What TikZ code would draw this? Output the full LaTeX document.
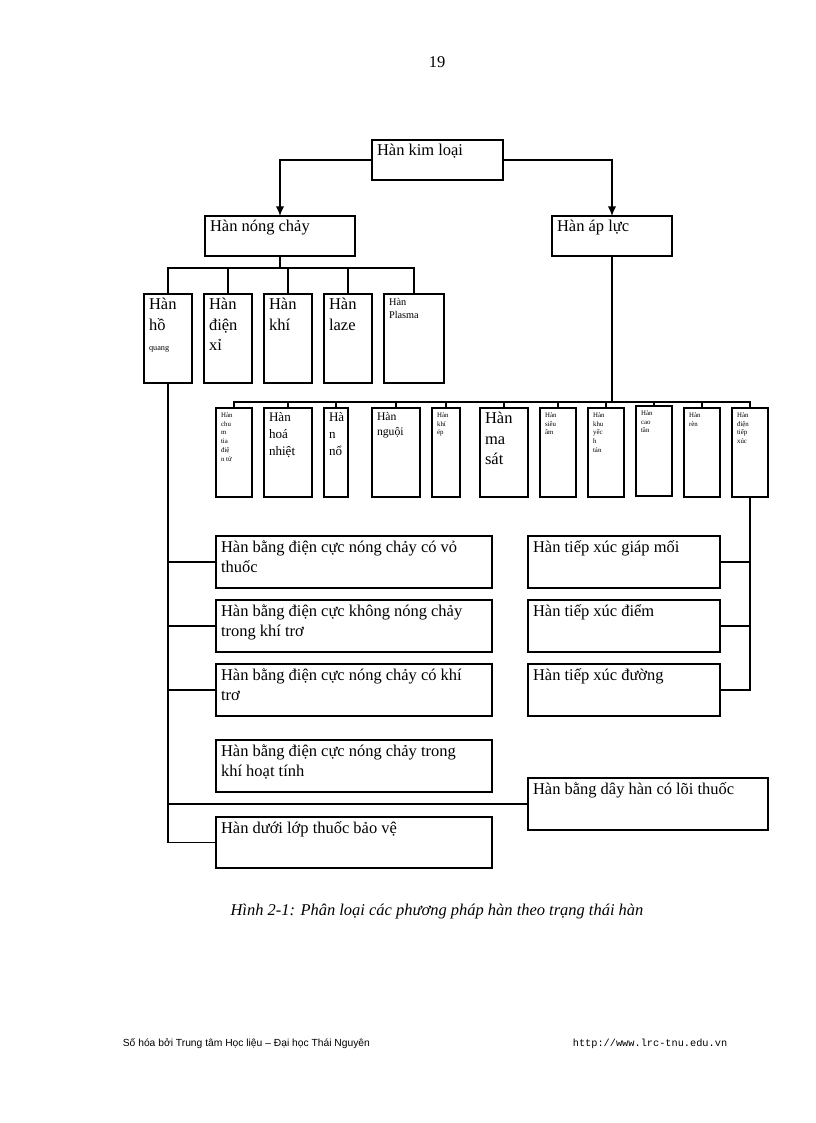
\documentclass[tikz,border=0pt]{standalone}
\usepackage{fontspec}
\setmainfont{Liberation Serif}
\newfontfamily\ftsans{Liberation Sans}
\newfontfamily\ftmono{Liberation Mono}
\usetikzlibrary{arrows.meta}
\newcommand\bx[7]{%
\node[box, minimum width={(#4-#2)*0.729pt}, minimum height={(#5-#3)*0.729pt}, anchor=north west] (#1) at (#2,#3) {};
\node[lbl, font=#6] at ([xshift=3.5pt,yshift=-3pt]#1.north west) {#7};}
\begin{document}
\begin{tikzpicture}[x=0.729pt,y=-0.729pt,
 box/.style={draw, line width=1.3pt, inner sep=0pt, outer sep=0pt},
 lbl/.style={anchor=north west, align=left, inner sep=0pt},
 ln/.style={line width=1pt},
 big/.style={font=\fontsize{12}{15}\selectfont},
 f12/.code={}]
\useasboundingbox (0,0) rectangle (816,1123);
\def\B{\fontsize{12}{15}\selectfont}
\def\S{\fontsize{6}{8}\selectfont}
\def\T{\fontsize{5}{6.5}\selectfont}
\node[font=\B] (pg) at (437,62) {19};
\bx{k}{372}{140}{503}{180}{\B}{Hàn kim loại}
\bx{n}{205}{216}{355}{256}{\B}{Hàn nóng chảy}
\bx{a}{552}{216}{672}{256}{\B}{Hàn áp lực}
% fusion
\bx{hq}{144}{294}{192}{383}{\B}{Hàn\\hồ\\{\S quang}}
\bx{dx}{204}{294}{252}{383}{\B}{Hàn\\điện\\xỉ}
\bx{kh}{264}{294}{312}{383}{\B}{Hàn\\khí}
\bx{lz}{324}{294}{372}{383}{\B}{Hàn\\laze}
\bx{pl}{384}{294}{444}{383}{\fontsize{7.5}{9.5}\selectfont}{Hàn\\Plasma}
% pressure
\bx{p1}{216}{408}{252}{497}{\T}{Hàn\\chu\\m\\tia\\điệ\\n tử}
\bx{p2}{264}{408}{312}{497}{\fontsize{9.5}{12.5}\selectfont}{Hàn\\hoá\\nhiệt}
\bx{p3}{324}{408}{348}{497}{\fontsize{9.5}{12.5}\selectfont}{Hà\\n\\nổ}
\bx{p4}{372}{408}{420}{497}{\fontsize{8.5}{11}\selectfont}{Hàn\\nguội}
\bx{p5}{432}{408}{460}{497}{\T}{Hàn\\khí\\ép}
\bx{p6}{480}{408}{528}{497}{\B}{Hàn\\ma\\sát}
\bx{p7}{540}{408}{576}{497}{\T}{Hàn\\siêu\\âm}
\bx{p8}{588}{408}{624}{497}{\T}{Hàn\\khu\\yếc\\h\\tán}
\bx{p9}{636}{406}{672}{496}{\T}{Hàn\\cao\\tần}
\bx{p10}{684}{408}{720}{497}{\T}{Hàn\\rèn}
\bx{p11}{732}{408}{768}{497}{\T}{Hàn\\điện\\tiếp\\xúc}
% bottom left
\bx{b1}{216}{536}{492}{588}{\B}{Hàn bằng điện cực nóng chảy có vỏ\\thuốc}
\bx{b2}{216}{600}{492}{652}{\B}{Hàn bằng điện cực không nóng chảy\\trong khí trơ}
\bx{b3}{216}{664}{492}{716}{\B}{Hàn bằng điện cực nóng chảy có khí\\trơ}
\bx{b4}{216}{740}{492}{792}{\B}{Hàn bằng điện cực nóng chảy trong\\khí hoạt tính}
\bx{b5}{216}{817}{492}{868}{\B}{Hàn dưới lớp thuốc bảo vệ}
% bottom right
\bx{r1}{528}{536}{720}{588}{\B}{Hàn tiếp xúc giáp mối}
\bx{r2}{528}{600}{720}{652}{\B}{Hàn tiếp xúc điểm}
\bx{r3}{528}{664}{720}{716}{\B}{Hàn tiếp xúc đường}
\bx{dh}{528}{778}{768}{830}{\B}{Hàn bằng dây hàn có lõi thuốc}
% connectors
\draw[ln,-{Latex[length=7pt,width=6pt]}] (k.west) -| (n.north);
\draw[ln,-{Latex[length=7pt,width=6pt]}] (k.east) -| (a.north);
\draw[ln] (hq.north) -- (hq.north|-0,268) -| (pl.north);
\foreach \m in {dx,kh,lz} \draw[ln] (\m.north) -- (\m.north|-0,268);
\draw[ln] (n.south) -- (n.south|-0,268);
\draw[ln] (a.south) -- (a.south|-0,402);
\draw[ln] (p1.north) -- (p1.north|-0,402) -| (p11.north);
\foreach \m in {p2,p3,p4,p5,p6,p7,p8,p9,p10} \draw[ln] (\m.north) -- (\m.north|-0,402);
\draw[ln] (hq.south) -- (hq.south|-b5.west) -- (b5.west);
\foreach \m in {b1,b2,b3,dh} \draw[ln] (hq.south|-\m.west) -- (\m.west);
\draw[ln] (p11.south) -- (p11.south|-r3.east) -- (r3.east);
\foreach \m in {r1,r2} \draw[ln] (p11.south|-\m.east) -- (\m.east);
\node[font=\itshape\fontsize{12}{15}\selectfont] (cap) at (437,912) {Hình 2-1: Phân loại các phương pháp hàn theo trạng thái hàn};
\node[font=\ftsans\fontsize{7.5}{9}\selectfont, anchor=west] (f1) at (118,1044) {Số hóa bởi Trung tâm Học liệu – Đại học Thái Nguyên};
\node[font=\ftmono\fontsize{7.5}{9}\selectfont, anchor=west] (f2) at (568,1044) {http://www.lrc-tnu.edu.vn};
\end{tikzpicture}
\end{document}
